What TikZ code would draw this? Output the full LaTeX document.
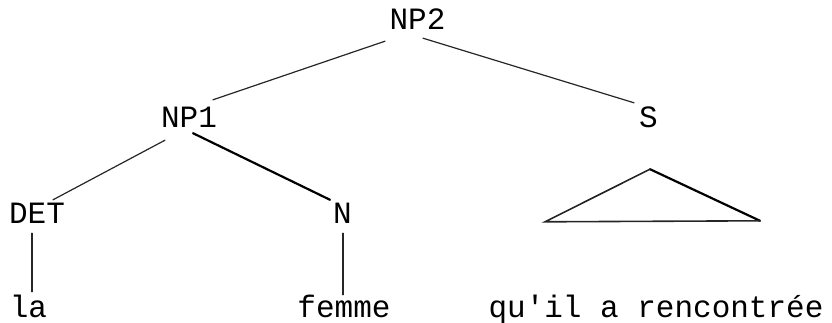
\documentclass[tikz,border=0pt]{standalone}
\usepackage{fontspec}
\newfontfamily\twfont{Liberation Mono}
\usetikzlibrary{calc}
\tikzset{
  lab/.style={anchor=base, inner sep=0pt, text height=17pt, text depth=0pt,
    font=\twfont\fontsize{31}{37}\selectfont},
  thinedge/.style={line width=1.2pt, draw=black!85, line cap=round},
  thickedge/.style={line width=2.2pt, draw=black, line cap=round, line join=round},
}
\begin{document}
\begin{tikzpicture}[x=1pt,y=-1pt]
\useasboundingbox (0,0) rectangle (832,323);
% nodes (x = centre, y = baseline)
\node[lab] (np2) at (417.5,30) {NP2};
\node[lab] (np1) at (189,128) {NP1};
\node[lab] (s) at (648.5,128) {S};
\node[lab] (det) at (37,223) {DET};
\node[lab] (n) at (342.5,223) {N};
\node[lab] (la) at (28.5,317) {la};
\node[lab] (femme) at (344,317) {femme};
\node[lab] (rel) at (656,317) {qu'il a rencontrée};
% connectors
\draw[thinedge] ($(np2.south)+(-32.5,11)$) -- ($(np1.north)+(24,-11)$);
\draw[thinedge] ($(np2.south)+(5.5,8)$) -- ($(s.north)+(-14.5,-8)$);
\draw[thinedge] ($(np1.south)+(-24,12)$) -- ($(det.north)+(16,-6)$);
\draw[thickedge] ($(np1.south)+(4,5)$) -- ($(n.north)+(-12.5,-6)$);
\draw[thinedge] ($(det.south)+(-5,10)$) -- ($(la.north)+(3.5,-8)$);
\draw[thinedge] ($(n.south)+(0.5,10)$) -- ($(femme.north)+(-1,-5)$);
% triangle under S
\draw[thickedge] ($(s.south)+(1.5,41)$) -- ($(rel.north)+(104,-79)$);
\draw[thinedge, line width=1.6pt] ($(s.south)+(1.5,41)$) -- ($(rel.north)+(-111,-78)$)
  -- ($(rel.north)+(104,-79)$);
\end{tikzpicture}
\end{document}
